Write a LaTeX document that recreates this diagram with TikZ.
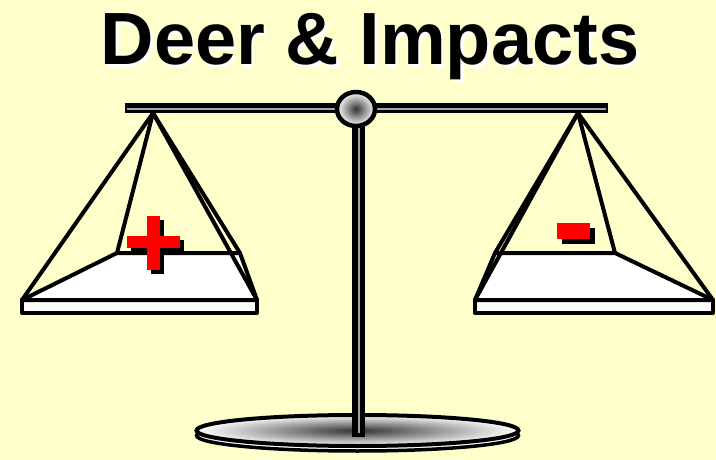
\documentclass[tikz,border=0pt]{standalone}
\usepackage{fontspec}
\setmainfont{Liberation Sans}
\definecolor{bgyellow}{HTML}{FFFFCC}
\definecolor{plusred}{HTML}{FF0000}
\begin{document}
\begin{tikzpicture}[x=1pt,y=-1pt,
  cord/.style={line width=4pt, line join=round, line cap=round},
  panface/.style={fill=white, draw=black, line width=4pt, line join=round},
  redsign/.style={fill=plusred},
  shadowsign/.style={fill=black}]
\useasboundingbox (0,0) rectangle (716,460);
\fill[bgyellow] (0,0) rectangle (716,460);

% title with a white drop shadow
\node[anchor=base, font=\bfseries\fontsize{74}{74}\selectfont, inner sep=0pt] (title) at (370,65)
  {\makebox[0pt][l]{\hspace{2.5pt}\raisebox{-2.5pt}{\textcolor{white}{Deer \& Impacts}}}Deer \& Impacts};

% base of the stand
\filldraw[fill=white, draw=black, line width=3.5pt] (357.5,435.5) ellipse [x radius=161, y radius=15.5];
\shade[inner color=black!80, outer color=white] (357.5,430.5) ellipse [x radius=161, y radius=15.5];
\draw[line width=4pt] (357.5,430.5) ellipse [x radius=161, y radius=15.5];

% post
\fill[black] (352,122) rectangle (365,437);
\draw[gray!70, line width=2pt] (358.5,124) -- (358.5,433);

% beam
\fill[black] (125,103) rectangle (608,113);
\draw[gray!70, line width=1.2pt] (127,109) -- (606,109);

% pivot
\coordinate (pivot) at (356,109);
\shade[inner color=black!80, outer color=white] (pivot) ellipse [x radius=19, y radius=17];
\draw[line width=4.5pt] (pivot) ellipse [x radius=19, y radius=17];

% left pan
\coordinate (LA) at (153,113);
\coordinate (LFL) at (22,300);
\coordinate (LBL) at (117,253);
\coordinate (LBR) at (240,253);
\coordinate (LFR) at (257,300);
\filldraw[panface] (22,300) rectangle (257,313);
\filldraw[panface] (LFL) -- (LBL) -- (LBR) -- (LFR) -- cycle;
\draw[cord] (LA) -- (LFL);
\draw[cord] (LA) -- (LBL);
\draw[cord] (LA) -- (LBR);
\draw[cord] (LA) -- (LFR);

% plus sign
\fill[shadowsign] (151,220) rectangle (164,274);
\fill[shadowsign] (131,240) rectangle (184,252);
\fill[redsign] (147,216) rectangle (160,270);
\fill[redsign] (127,236) rectangle (180,248);

% right pan
\coordinate (RA) at (578,113);
\coordinate (RFL) at (475,300);
\coordinate (RBL) at (495,253);
\coordinate (RBR) at (615,253);
\coordinate (RFR) at (713,300);
\filldraw[panface] (475,300) rectangle (713,313);
\filldraw[panface] (RFL) -- (RBL) -- (RBR) -- (RFR) -- cycle;
\draw[cord] (RA) -- (RFL);
\draw[cord] (RA) -- (RBL);
\draw[cord] (RA) -- (RBR);
\draw[cord] (RA) -- (RFR);

% minus sign
\fill[shadowsign] (562,228) rectangle (595,244);
\fill[redsign] (557,223) rectangle (590,239);
\end{tikzpicture}
\end{document}
